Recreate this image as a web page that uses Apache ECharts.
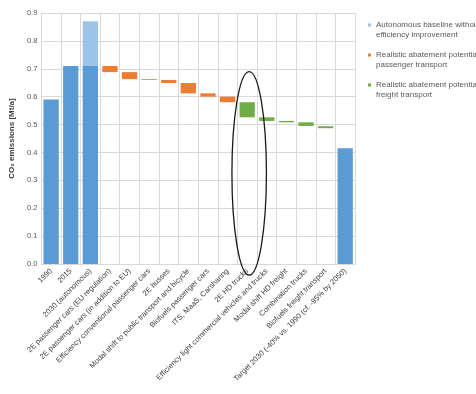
<!DOCTYPE html>
<html>
<head>
<meta charset="utf-8">
<script src="https://cdn.jsdelivr.net/npm/echarts@6/dist/echarts.min.js"></script>
<style>
  html, body { margin: 0; padding: 0; background: #ffffff; }
  #chart { width: 476px; height: 394px; }
</style>
</head>
<body>
<div id="chart"></div>
<script>
// Transport CO2 abatement pathway (waterfall)
const categories = [
  '1990',
  '2015',
  '2030 (autonomous)',
  '2E passenger cars (EU regulation)',
  '2E passenger cars (in addition to EU)',
  'Efficiency conventional passenger cars',
  '2E busses',
  'Modal shift to public transport and bicycle',
  'Biofuels passenger cars',
  'ITS, MaaS, Carsharing',
  '2E HD trucks',
  'Efficiency light commercial vehicles and trucks',
  'Modal shift HD freight',
  'Combination trucks',
  'Biofuels freight transport',
  'Target 2030 (-40% vs. 1990 (cf. -95% by 2050)'
];

// Emission levels (Mt/a)
const emissionLevels = [0.59, 0.71, 0.71, null, null, null, null, null, null, null, null, null, null, null, null, 0.415];
const autonomousGrowth = [null, null, 0.16, null, null, null, null, null, null, null, null, null, null, null, null, null];

// Waterfall steps: level before and after each measure
const passengerFrom = [null, null, null, 0.710, 0.688, 0.663, 0.660, 0.649, 0.612, 0.600, null, null, null, null, null, null];
const passengerTo   = [null, null, null, 0.688, 0.663, 0.660, 0.649, 0.612, 0.600, 0.580, null, null, null, null, null, null];
const freightFrom   = [null, null, null, null, null, null, null, null, null, null, 0.580, 0.526, 0.513, 0.508, 0.494, null];
const freightTo     = [null, null, null, null, null, null, null, null, null, null, 0.526, 0.513, 0.508, 0.495, 0.487, null];

const yTicks = { min: 0, max: 0.9, interval: 0.1 };

const legendNames = [
  'Autonomous baseline without efficiency improvement',
  'Realistic abatement potential passenger transport',
  'Realistic abatement potential freight transport'
];
const legendLabels = {
  [legendNames[0]]: 'Autonomous baseline without\nefficiency improvement',
  [legendNames[1]]: 'Realistic abatement potential\npassenger transport',
  [legendNames[2]]: 'Realistic abatement potential\nfreight transport'
};

const round = v => Math.round(v * 1000) / 1000;
const base = categories.map((_, i) => {
  if (passengerTo[i] != null) return passengerTo[i];
  if (freightTo[i] != null) return freightTo[i];
  return null;
});
const passengerStep = passengerFrom.map((v, i) => v == null ? null : round(v - passengerTo[i]));
const freightStep = freightFrom.map((v, i) => v == null ? null : round(v - freightTo[i]));

const chart = echarts.init(document.getElementById('chart'), null, { renderer: 'canvas' });

const gridColor = '#d9d9d9';
const textColor = '#595959';

chart.setOption({
  animation: false,
  textStyle: { fontFamily: 'Liberation Sans, Arial, sans-serif' },
  grid: { left: 40, right: 121, top: 13, bottom: 130, containLabel: false },
  legend: {
    data: legendNames,
    orient: 'vertical',
    left: 363,
    top: 15,
    itemWidth: 3,
    itemHeight: 13,
    itemGap: 10,
    // small square sitting at the top of the icon box, level with the first text line
    icon: 'path://M0,0h3v3h-3z M0,13h0.1',
    formatter: n => legendLabels[n],
    textStyle: { fontSize: 8, color: textColor, lineHeight: 10 }
  },
  xAxis: {
    type: 'category',
    data: categories,
    axisLine: { lineStyle: { color: gridColor } },
    axisTick: { show: false },
    splitLine: { show: true, interval: 0, lineStyle: { color: gridColor, width: 1 } },
    axisLabel: {
      interval: 0,
      rotate: 45,
      fontSize: 7.5,
      color: '#404040',
      margin: 6
    }
  },
  yAxis: {
    type: 'value',
    min: yTicks.min,
    max: yTicks.max,
    interval: yTicks.interval,
    name: 'CO₂ emissions [Mt/a]',
    nameLocation: 'middle',
    nameGap: 20,
    nameRotate: 90,
    nameTextStyle: { fontSize: 8, color: '#404040', fontWeight: 'bold' },
    axisLine: { show: true, lineStyle: { color: gridColor } },
    axisTick: { show: false },
    splitLine: { lineStyle: { color: gridColor } },
    axisLabel: { fontSize: 7.5, color: textColor, margin: 4, formatter: v => v.toFixed(1) }
  },
  series: [
    {
      name: 'base', type: 'bar', stack: 'w', data: base,
      itemStyle: { color: 'rgba(0,0,0,0)' }, barCategoryGap: '22%', silent: true
    },
    {
      name: 'Emissions', type: 'bar', stack: 'w', data: emissionLevels,
      itemStyle: { color: '#5b9bd5' }
    },
    {
      name: legendNames[0], type: 'bar', stack: 'w', data: autonomousGrowth,
      itemStyle: { color: '#9dc3e6' }
    },
    {
      name: legendNames[1], type: 'bar', stack: 'w', data: passengerStep,
      itemStyle: { color: '#ed7d31' }
    },
    {
      name: legendNames[2], type: 'bar', stack: 'w', data: freightStep,
      itemStyle: { color: '#70ad47' }
    }
  ]
});

// Highlight ellipse around the HD truck measure
const focus = categories[10];
const topPt = chart.convertToPixel({ gridIndex: 0 }, [focus, 0.69]);
const botPt = chart.convertToPixel({ gridIndex: 0 }, [focus, -0.04]);
const nextPt = chart.convertToPixel({ gridIndex: 0 }, [categories[11], 0]);
const bandW = nextPt[0] - topPt[0];
chart.setOption({
  graphic: [{
    type: 'ellipse',
    shape: {
      cx: topPt[0] + 2,
      cy: (topPt[1] + botPt[1]) / 2,
      rx: bandW * 0.88,
      ry: (botPt[1] - topPt[1]) / 2
    },
    style: { fill: 'none', stroke: '#1a1a1a', lineWidth: 1.3 },
    z: 100
  }]
});
</script>
</body>
</html>
